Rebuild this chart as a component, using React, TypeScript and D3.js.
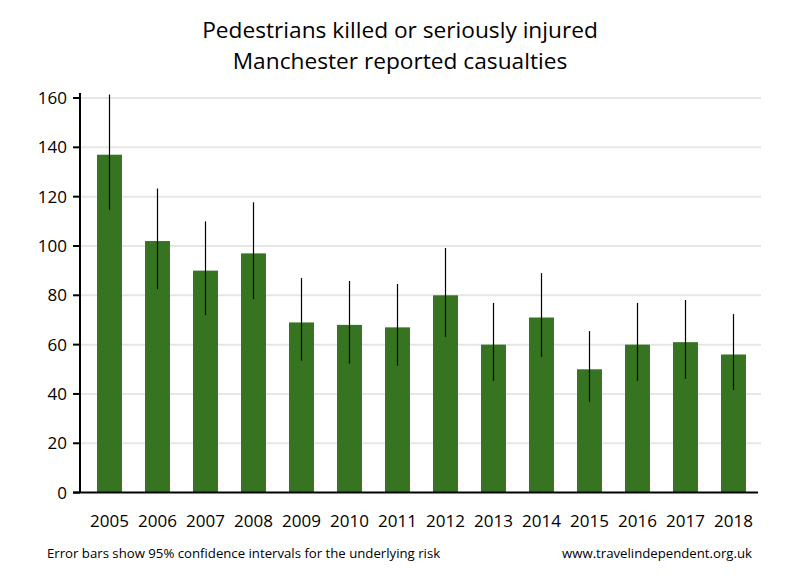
import React from "react";
import * as d3 from "d3";

const years = ["2005","2006","2007","2008","2009","2010","2011","2012","2013","2014","2015","2016","2017","2018"];
const values = [137, 102, 90, 97, 69, 68, 67, 80, 60, 71, 50, 60, 61, 56];
const lower = [114.7, 82.5, 72, 78.5, 53.5, 52.3, 51.5, 63.2, 45.4, 55.1, 36.8, 45.4, 46.2, 41.7];
const upper = [161.4, 123.3, 110, 117.7, 87, 85.8, 84.6, 99.2, 76.9, 89, 65.5, 76.9, 78.1, 72.4];
const yTicks = [0, 20, 40, 60, 80, 100, 120, 140, 160];
const titleLines = ["Pedestrians killed or seriously injured", "Manchester reported casualties"];
const footLeft = "Error bars show 95% confidence intervals for the underlying risk";
const footRight = "www.travelindependent.org.uk";

export default function App() {
  const W = 800, H = 580;
  const font = "'Open Sans', sans-serif";
  const x = d3.scaleBand<string>().domain(years).range([85.5, 757.5]).paddingInner(0.48).paddingOuter(0.24);
  const y = d3.scaleLinear().domain([0, 160]).range([492.6, 98]);
  const barColor = "#367421";
  return (
    <svg width={W} height={H} style={{ position: "absolute", left: 0, top: 0, background: "#fff" }}>
      <rect x={0} y={0} width={W} height={H} fill="#fff" />
      {titleLines.map((t, i) => (
        <text key={t} x={400} y={38 + i * 31} textAnchor="middle" fontFamily={font} fontSize={22.7} fill="#000">{t}</text>
      ))}
      {yTicks.filter(t => t > 0).map(t => (
        <line key={"g" + t} x1={80} x2={761} y1={y(t)} y2={y(t)} stroke="#e6e6e6" strokeWidth={2} />
      ))}
      {years.map((yr, i) => (
        <rect key={"b" + yr} x={x(yr)} y={y(values[i])} width={x.bandwidth()} height={y(0) - y(values[i])} fill={barColor} />
      ))}
      {years.map((yr, i) => {
        const cx = (x(yr) as number) + x.bandwidth() / 2;
        return <line key={"e" + yr} x1={cx} x2={cx} y1={y(upper[i])} y2={y(lower[i])} stroke="#000" strokeWidth={1.2} />;
      })}
      <line x1={80} x2={80} y1={93} y2={493} stroke="#000" strokeWidth={2} />
      <line x1={73} x2={758} y1={492.6} y2={492.6} stroke="#000" strokeWidth={2} />
      {yTicks.map(t => (
        <g key={"t" + t}>
          <line x1={73} x2={80} y1={y(t)} y2={y(t)} stroke="#000" strokeWidth={2} />
          <text x={67} y={y(t)} dy="0.36em" textAnchor="end" fontFamily={font} fontSize={17} fill="#000">{t}</text>
        </g>
      ))}
      {years.map(yr => (
        <text key={"x" + yr} x={(x(yr) as number) + x.bandwidth() / 2} y={527} textAnchor="middle" fontFamily={font} fontSize={17} fill="#000">{yr}</text>
      ))}
      <text x={47} y={558} fontFamily={font} fontSize={13.2} fill="#000">{footLeft}</text>
      <text x={752} y={558} textAnchor="end" fontFamily={font} fontSize={13.2} fill="#000">{footRight}</text>
    </svg>
  );
}
